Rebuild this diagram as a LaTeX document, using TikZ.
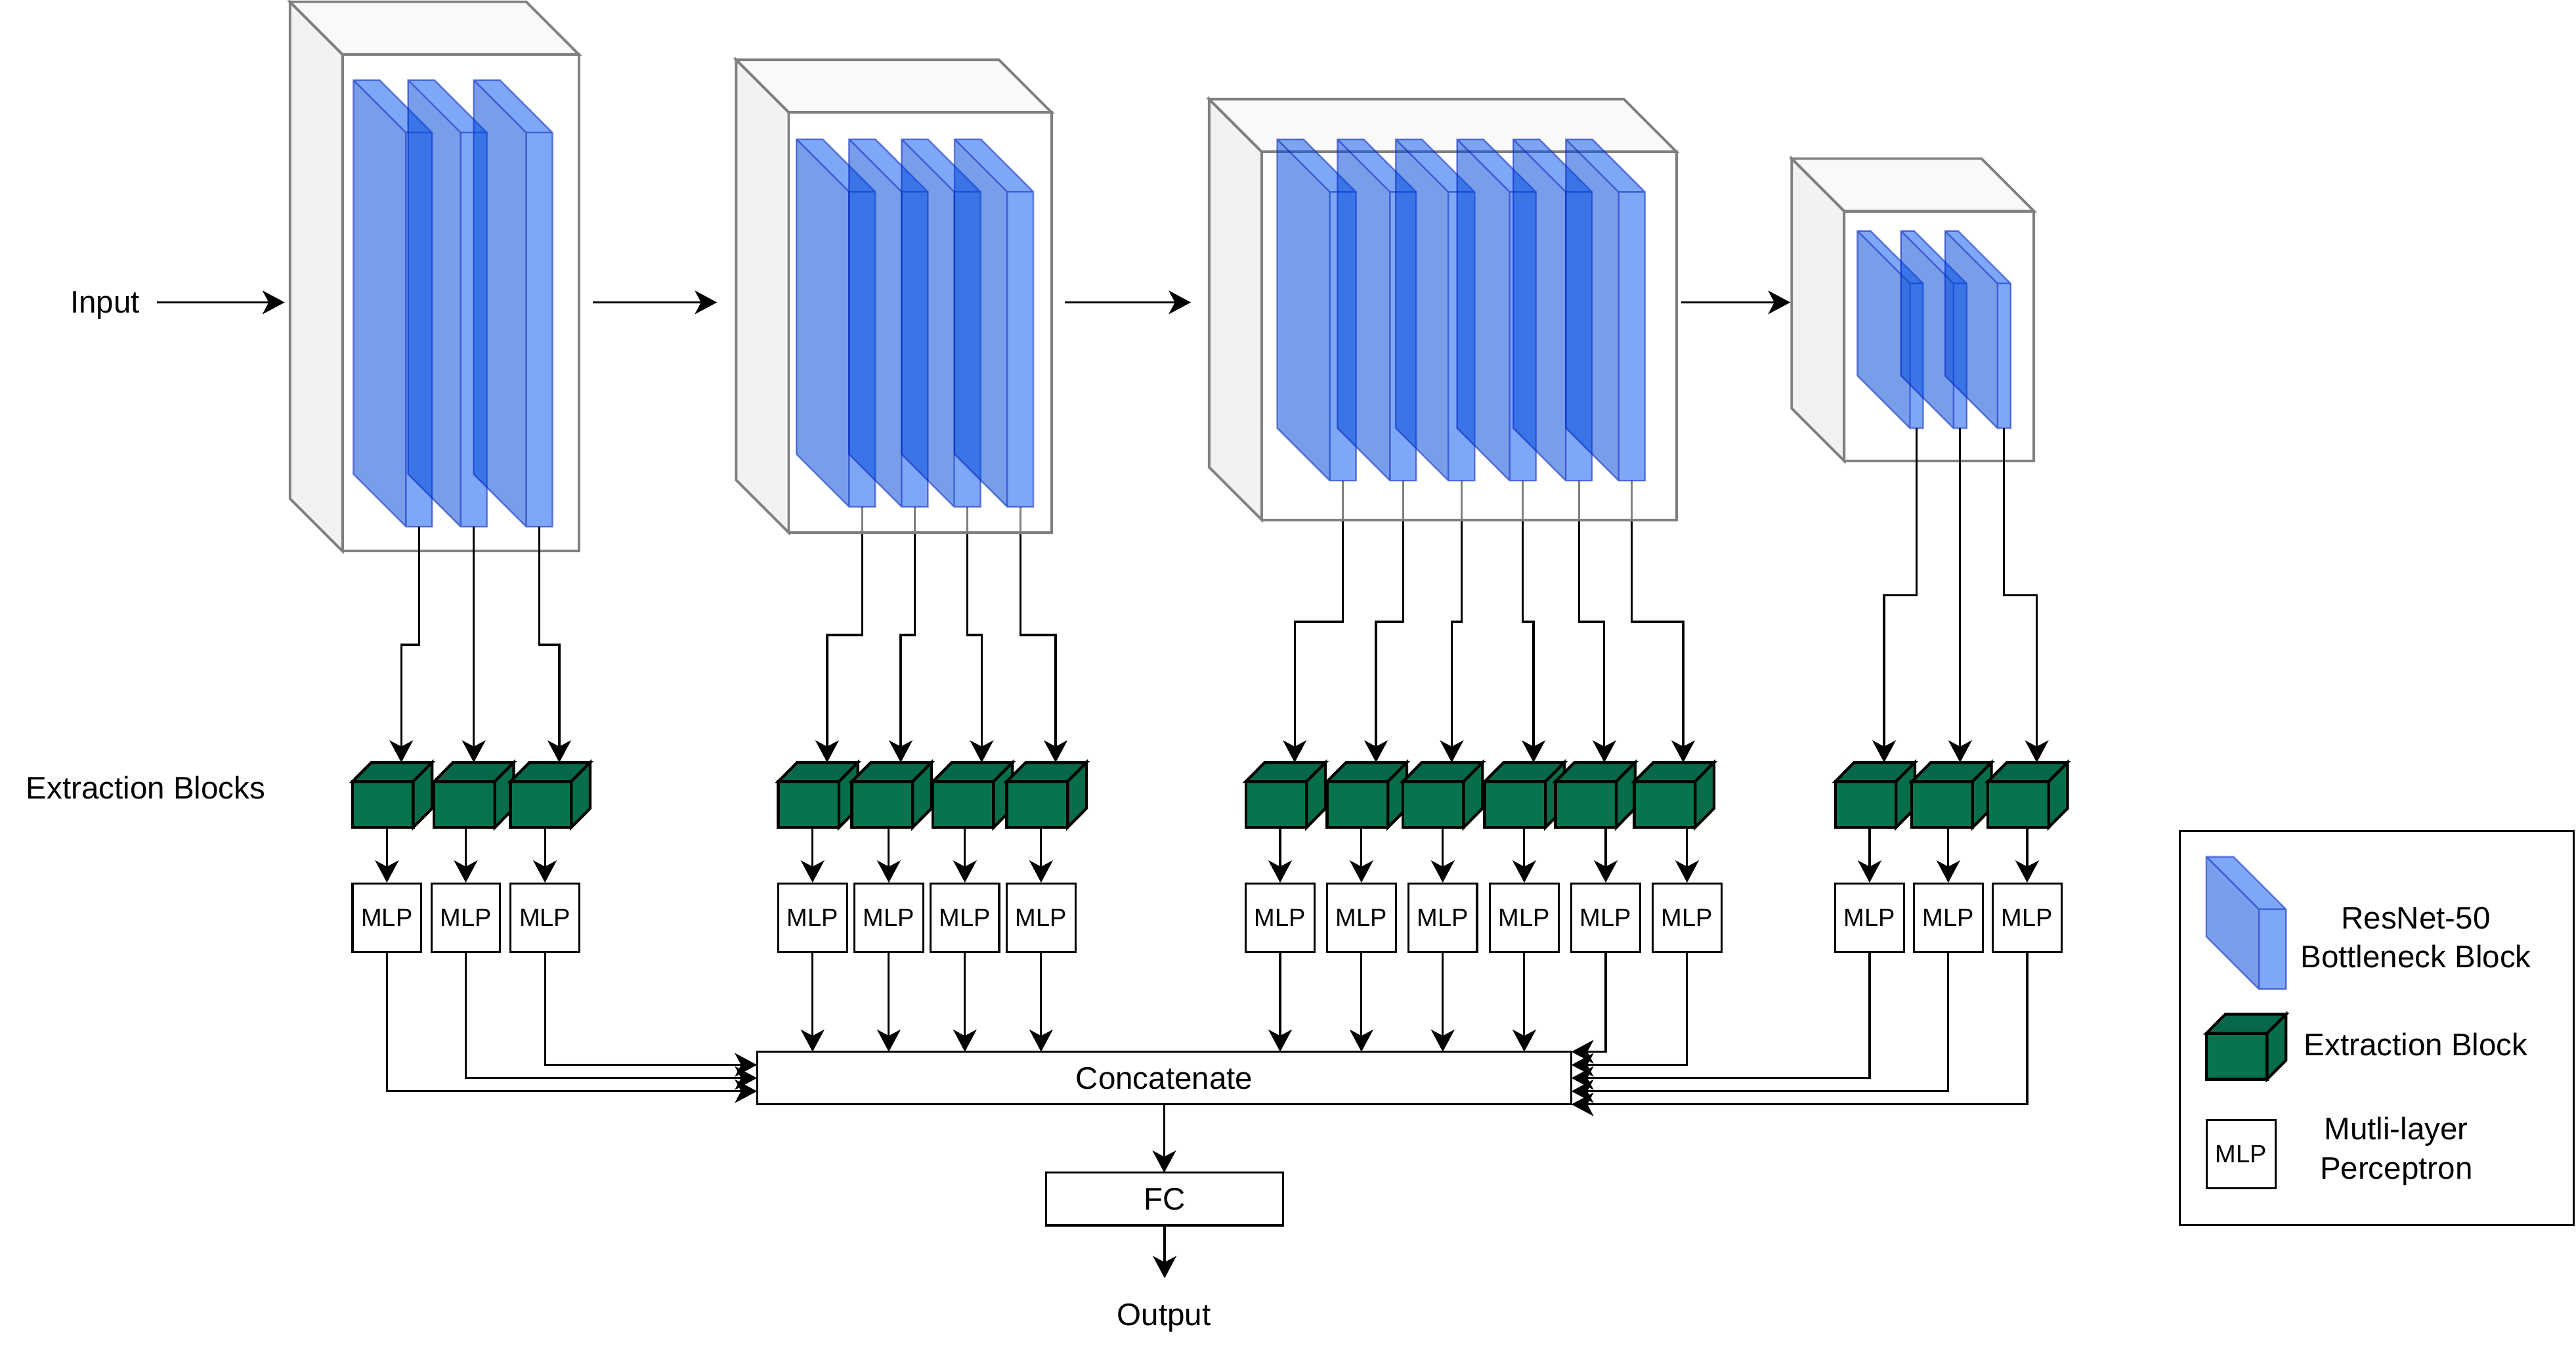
\documentclass[tikz,border=0pt]{standalone}
\usepackage{fontspec}
\setmainfont{Liberation Sans}
\usepackage{xcolor}
\usepackage{tikz}
\usetikzlibrary{arrows.meta,calc}
\pgfdeclarelayer{background}
\pgfsetlayers{background,main}

\definecolor{resblue}{HTML}{0050EF}
\definecolor{resedge}{HTML}{001DBC}
\definecolor{xfront}{HTML}{077350}
\definecolor{xtop}{HTML}{06674A}
\definecolor{xside}{HTML}{076D4C}
\definecolor{boxside}{HTML}{F2F2F2}
\definecolor{boxtop}{HTML}{F9F9F9}
\definecolor{boxline}{HTML}{808080}

% stage box: front face (#2,#3)--(#4,#5), depth 32
\newcommand{\stagebox}[5]{%
  \filldraw[stage, fill=boxside] (#2-32,#3-32) -- (#2,#3) -- (#2,#5) -- (#2-32,#5-32) -- cycle;
  \filldraw[stage, fill=boxtop] (#2-32,#3-32) -- (#4-32,#3-32) -- (#4,#3) -- (#2,#3) -- cycle;
  \draw[stage, fill=white, fill opacity=.5] (#2,#3) rectangle (#4,#5);
  \coordinate (#1-w) at (#2-32,184);
  \coordinate (#1-e) at (#4,184);
}
% bottleneck slab: front face left #2, top #3, bottom #4, width #5
\newcommand{\slab}[5]{%
  \fill[resblue, opacity=.5] (#2-32,#3-32) -- ++(#5,0) -- (#2+#5,#3) -- (#2+#5,#4)
    -- (#2,#4) -- (#2-32,#4-32) -- cycle;
  \fill[black, opacity=.05] (#2-32,#3-32) -- (#2,#3) -- (#2,#4) -- (#2-32,#4-32) -- cycle;
  \draw[resedge, draw opacity=.5, line width=.7pt] (#2-32,#3-32) -- ++(#5,0) -- (#2+#5,#3)
    -- (#2+#5,#4) -- (#2,#4) -- (#2-32,#4-32) -- cycle
    (#2-32,#3-32) -- (#2,#3) -- (#2+#5,#3) (#2,#3) -- (#2,#4);
  \coordinate (#1) at (#2+#5/2,#4);
}
% extraction cube: left #2, top #3
\newcommand{\xcube}[3]{%
  \node[xblock] (#1) at (#2+18.5,#3+25.55) {};
  \filldraw[xline, fill=xtop] (#1.north west) -- ++(11.5,-11.6) -- ++(37,0) -- (#1.north east) -- cycle;
  \filldraw[xline, fill=xside] (#1.north east) -- ++(11.5,-11.6) -- ++(0,27.9) -- (#1.south east) -- cycle;
  \coordinate (#1-t) at (#2+29.75,#3);
}

\begin{document}
\begin{tikzpicture}[x=0.025cm, y=-0.025cm,
  lbl/.style={font=\fontsize{13.5}{17}\selectfont},
  blk/.style={draw, line width=.9pt, inner sep=0pt, outer sep=0pt, lbl},
  mlp/.style={draw, line width=.9pt, fill=white, minimum width=1.045cm, minimum height=1.04cm,
    inner sep=0pt, font=\fontsize{10.8}{13}\selectfont},
  stage/.style={draw=boxline, line width=1.1pt},
  xblock/.style={draw, fill=xfront, line width=1.2pt, minimum width=0.925cm,
    minimum height=0.6975cm, inner sep=0pt, outer sep=0pt},
  xline/.style={line width=1.2pt},
  arr/.style={-{Stealth[length=9.6pt,width=10.2pt,inset=2.7pt]}, line width=.9pt}]
  \useasboundingbox (0,0) rectangle (1568,826.3);

  % ResNet stages
  \stagebox{b1}{208.5}{33.1}{352.3}{335.4}
  \foreach \n/\x in {s1a/247.1, s1b/280.4, s1c/320.3} \slab{\n}{\x}{80.7}{320.5}{16};
  \stagebox{b2}{480.1}{68.4}{640.1}{324.1}
  \foreach \n/\x in {s2a/516.8, s2b/548.8, s2c/580.8, s2d/613} \slab{\n}{\x}{116.7}{308.4}{16};
  \stagebox{b3}{768}{92.3}{1020.4}{316.3}
  \foreach \n/\x in {s3a/809.4, s3b/846.1, s3c/881.6, s3d/918.9, s3e/953.1, s3f/985.2}
    \slab{\n}{\x}{116.8}{292.5}{16};
  \stagebox{b4}{1122.6}{128.5}{1238.1}{280.5}
  \foreach \n/\x in {s4a/1162.6, s4b/1189.1, s4c/1215.9} \slab{\n}{\x}{172.5}{260.6}{8};

  % Input and stage arrows
  \node[lbl, anchor=base] (in) at (63.9,190.5) {Input};
  \draw[arr, shorten <=3.8pt, shorten >=2.3pt] (in.east |- b1-w) -- (b1-w);
  \draw[arr, shorten <=6.2pt, shorten >=8.3pt] (b1-e) -- (b2-w);
  \draw[arr, shorten <=5.6pt, shorten >=7.9pt] (b2-e) -- (b3-w);
  \draw[arr, shorten <=2pt, shorten >=0.6pt] (b3-e) -- (b4-w);

  % Extraction blocks
  \node[lbl, anchor=base] (xlbl) at (88.7,486.1) {Extraction Blocks};
  \foreach \n/\x in {e1a/214.5, e1b/264.2, e1c/310.7, e2a/473.7, e2b/518.5, e2c/567.8, e2d/612.8,
    e3a/758.3, e3b/807.8, e3c/853.9, e3d/903.7, e3e/946.8, e3f/994.8,
    e4a/1117.1, e4b/1163.7, e4c/1210}
    \xcube{\n}{\x}{464};

  % Taps from the stages (jog levels)
  \coordinate (j1) at (0,392.4);
  \coordinate (j2) at (0,386.4);
  \coordinate (j3) at (0,378.4);
  \coordinate (j4) at (0,362.3);
  \draw[arr] (s1a) -- (s1a |- j1) -| (e1a-t);
  \draw[arr] (s1b) -- (s1b |- e1b-t);
  \draw[arr] (s1c) -- (s1c |- j1) -| (e1c-t);
  \begin{pgfonlayer}{background}
    \foreach \s/\e in {s2a/e2a, s2b/e2b, s2c/e2c, s2d/e2d}
      \draw[arr] (\s) -- (\s |- j2) -| (\e-t);
    \foreach \s/\e in {s3a/e3a, s3b/e3b, s3c/e3c, s3d/e3d, s3e/e3e, s3f/e3f}
      \draw[arr] (\s) -- (\s |- j3) -| (\e-t);
  \end{pgfonlayer}
  \draw[arr] (s4a) -- (s4a |- j4) -| (e4a-t);
  \draw[arr] (s4b) -- (s4b |- e4b-t);
  \draw[arr] (s4c) -- (s4c |- j4) -| (e4c-t);

  % MLPs
  \foreach \n/\x in {m1a/235.5, m1b/283.5, m1c/331.7, m2a/494.6, m2b/541, m2c/587.3, m2d/633.7,
    m3a/779.2, m3b/828.7, m3c/878.2, m3d/927.8, m3e/977.4, m3f/1026.9,
    m4a/1138, m4b/1185.9, m4c/1233.9}
    \node[mlp] (\n) at (\x,558.5) {MLP};
  \foreach \e/\m in {e1a/m1a, e1b/m1b, e1c/m1c, e2a/m2a, e2b/m2b, e2c/m2c, e2d/m2d,
    e3a/m3a, e3b/m3b, e3c/m3c, e3d/m3d, e3e/m3e, e3f/m3f, e4a/m4a, e4b/m4b, e4c/m4c}
    \draw[arr] (\m.north |- \e.south) -- (\m.north);

  % Concatenate, FC, output
  \node[blk, minimum width=12.39cm, minimum height=0.8cm] (cc) at (708.65,656) {Concatenate};
  \node[blk, minimum width=3.61cm, minimum height=0.8cm] (fc) at (708.9,729.6) {FC};
  \node[lbl, anchor=base, inner ysep=10.8pt] (out) at (708.5,806.5) {Output};
  \foreach \m in {m2a, m2b, m2c, m2d, m3a, m3b, m3c, m3d}
    \draw[arr] (\m.south) -- (\m.south |- cc.north);
  \draw[arr] (m1a.south) |- ($(cc.north west)+(0,24)$);
  \draw[arr] (m1b.south) |- ($(cc.north west)+(0,16)$);
  \draw[arr] (m1c.south) |- ($(cc.north west)+(0,8)$);
  \draw[arr] (m3e.south) |- (cc.north east);
  \draw[arr] (m3f.south) |- ($(cc.north east)+(0,8)$);
  \draw[arr] (m4a.south) |- ($(cc.north east)+(0,16)$);
  \draw[arr] (m4b.south) |- ($(cc.north east)+(0,24)$);
  \draw[arr] (m4c.south) |- ($(cc.north east)+(0,32)$);
  \draw[arr] (cc.south) -- (cc.south |- fc.north);
  \draw[arr] (fc.south) -- (fc.south |- out.north);

  % Legend
  \node[draw, line width=.9pt, minimum width=5.995cm, minimum height=5.9925cm, inner sep=0pt]
    (legend) at (1446.8,625.55) {};
  \slab{lslab}{1375}{553.3}{601.9}{16.5}
  \xcube{lcube}{1343}{617.2}
  \node[mlp] (lmlp) at (1364.2,702.35) {MLP};
  \node[lbl, align=center] (lres) at (1470.5,570.5) {ResNet-50\\Bottleneck Block};
  \node[lbl, anchor=base] (lext) at (1470.5,642.2) {Extraction Block};
  \node[lbl, align=center] (lmlptxt) at (1458.6,700.4) {Mutli-layer\\Perceptron};
\end{tikzpicture}
\end{document}
